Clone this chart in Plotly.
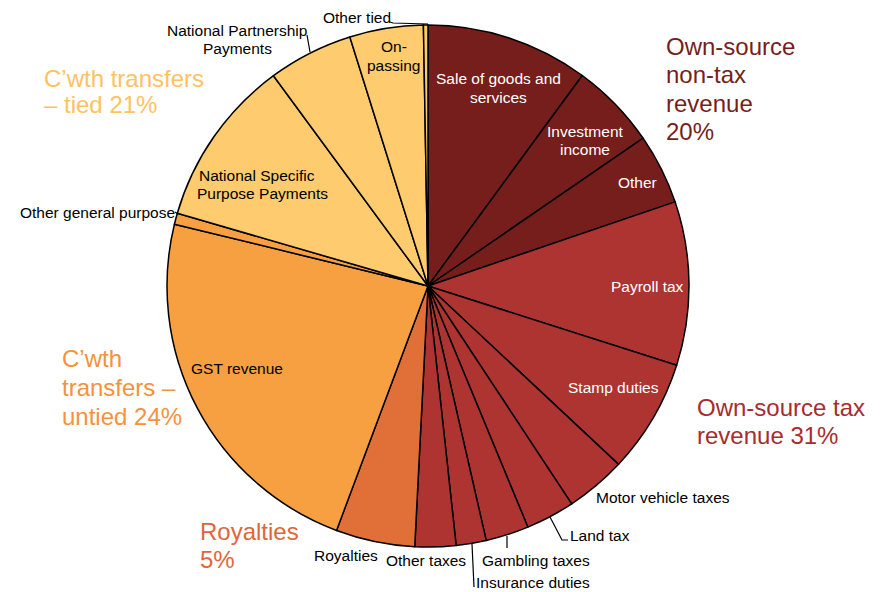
import plotly.graph_objects as go

# page has an 8px body margin; figure is sized to fill the rest of the window
OFF = 8
W, H = 885 - OFF, 592 - OFF

# ---- data (percent of total revenue) ----
categories = [
    "Sale of goods and services", "Investment income", "Other",
    "Payroll tax", "Stamp duties", "Motor vehicle taxes", "Land tax",
    "Gambling taxes", "Insurance duties", "Other taxes",
    "Royalties",
    "GST revenue", "Other general purpose",
    "National Specific Purpose Payments", "National Partnership Payments",
    "On-passing", "Other tied",
]
values = [10.07, 5.35, 4.36,
          10.14, 7.06, 3.75, 3.03, 2.67, 1.86, 2.53,
          4.89,
          23.11, 0.69,
          10.42, 5.25, 4.56, 0.28]
groups = ["nontax"] * 3 + ["tax"] * 7 + ["roy"] + ["untied"] * 2 + ["tied"] * 4

group_fill = {"nontax": "#761E1B", "tax": "#AE3432", "roy": "#E07038",
              "untied": "#F7A042", "tied": "#FECB6E"}
group_text = {"nontax": "#761E1B", "tax": "#A82B2D", "roy": "#E0663A",
              "untied": "#F7913C", "tied": "#FFC261"}

group_label_lines = {
    "nontax": ["Own-source", "non-tax", "revenue", "20%"],
    "tax": ["Own-source tax", "revenue 31%"],
    "roy": ["Royalties", "5%"],
    "untied": ["C\u2019wth", "transfers \u2013", "untied 24%"],
    "tied": ["C\u2019wth transfers", "\u2013 tied 21%"],
}

# ---- layout helpers (window pixel -> paper) ----
def px(x):
    return (x - OFF) / W

def py(y):
    return 1 - (y - OFF) / H

cx, cy, R = 428, 286, 261

fig = go.Figure(go.Pie(
    labels=categories,
    values=values,
    sort=False,
    direction="clockwise",
    rotation=0,
    textinfo="none",
    hoverinfo="label+percent",
    marker=dict(colors=[group_fill[g] for g in groups],
                line=dict(color="black", width=1.5)),
    domain=dict(x=[px(cx - R), px(cx + R)], y=[py(cy + R), py(cy - R)]),
    showlegend=False,
))

annotations = []

def txt(s, x, y, color="black", size=15.5, xanchor="center"):
    annotations.append(dict(text=s, x=px(x), y=py(y), xref="paper", yref="paper",
                            showarrow=False, xanchor=xanchor, yanchor="middle",
                            font=dict(family="Liberation Sans, Arial, sans-serif",
                                      size=size, color=color)))

# inside slice labels
txt("Sale of goods and", 498, 79, "white")
txt("services", 498, 97, "white")
txt("Investment", 585, 132, "white")
txt("income", 585, 150, "white")
txt("Other", 637, 183, "white")
txt("Payroll tax", 647, 286, "white")
txt("Stamp duties", 613, 387, "white")
txt("On-", 394, 47)
txt("passing", 393, 65)
txt("National Specific", 257, 175)
txt("Purpose Payments", 262, 193)
txt("GST revenue", 237, 368)

# outside slice labels
txt("Other tied", 357, 17)
txt("National Partnership", 237, 31)
txt("Payments", 237, 48)
txt("Other general purpose", 177, 212, xanchor="right")
txt("Royalties", 346, 555)
txt("Other taxes", 426, 560)
txt("Insurance duties", 533, 582)
txt("Gambling taxes", 536, 560)
txt("Land tax", 600, 535)
txt("Motor vehicle taxes", 663, 497)

# group labels
group_pos = {
    "nontax": (664, [47, 75, 103, 131]),
    "tax": (695, [407, 435]),
    "roy": (198, [531, 559]),
    "untied": (60, [358, 387, 416]),
    "tied": (42, [78, 105]),
}
for g, (x0, ys) in group_pos.items():
    for line, y in zip(group_label_lines[g], ys):
        txt(line, x0, y, group_text[g], size=24, xanchor="left")

# leader lines
leaders = [
    [(390, 22), (393, 23), (428, 24)],
    [(307, 35), (310, 52)],
    [(175, 212), (178, 214)],
    [(472, 544), (474, 587)],
    [(507, 536), (507, 548)],
    [(550, 517), (562, 540), (568, 540)],
]
shapes = []
for pts in leaders:
    path = "M " + " L ".join(f"{px(x)},{py(y)}" for x, y in pts)
    shapes.append(dict(type="path", path=path, xref="paper", yref="paper",
                       line=dict(color="black", width=1.2)))

fig.update_layout(
    width=W, height=H,
    margin=dict(l=0, r=0, t=0, b=0),
    paper_bgcolor="white", plot_bgcolor="white",
    annotations=annotations, shapes=shapes,
)

fig.write_html("out.html")
